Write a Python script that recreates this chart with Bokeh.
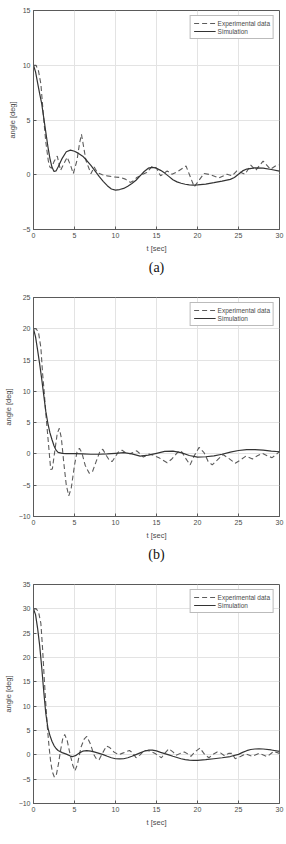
from bokeh.plotting import figure
from bokeh.models import Range1d, FixedTicker, Title, Label, Legend, LegendItem
from bokeh.layouts import column
from bokeh.embed import file_html
from bokeh.resources import INLINE

# ---------------- data ----------------
x_ticks = [0, 5, 10, 15, 20, 25, 30]

# (a)
a_sim_t = [0, 0.25, 0.5, 0.75, 1.0, 1.25, 1.5, 1.75, 2.0, 2.25, 2.5, 2.75, 3.0, 3.5, 4.0, 4.5, 5.0, 5.5, 6.0, 6.5, 7.0,
           7.5, 8.0, 8.5, 9.0, 9.5, 10, 10.5, 11, 11.5, 12, 12.5, 13, 13.5, 14, 14.5, 15, 15.5, 16, 16.5, 17, 17.5,
           18, 18.5, 19, 19.5, 20, 21, 22, 23, 24, 24.5, 25, 25.5, 26, 27, 28, 29, 30]
a_sim_v = [10, 9.4, 8.4, 7.4, 6.5, 5.2, 3.9, 2.6, 1.5, 0.7, 0.3, 0.35, 0.7, 1.5, 2.1, 2.25, 2.15, 1.95, 1.7, 1.3, 0.85,
           0.35, -0.15, -0.6, -1.0, -1.3, -1.4, -1.35, -1.25, -1.05, -0.8, -0.5, -0.1, 0.3, 0.6, 0.68, 0.6, 0.4,
           0.15, -0.15, -0.45, -0.65, -0.78, -0.87, -0.92, -0.95, -0.93, -0.85, -0.72, -0.58, -0.42, -0.25, 0.05,
           0.35, 0.52, 0.62, 0.6, 0.48, 0.33]
a_exp_t = [0, 0.3, 0.6, 0.9, 1.2, 1.5, 1.8, 2.0, 2.2, 2.5, 2.9, 3.3, 3.7, 4.1, 4.5, 4.85, 5.3, 5.6, 5.85, 6.1, 6.4,
           7.0, 7.4, 7.8, 8.4, 9.0, 9.8, 10.6, 11.2, 11.8, 12.3, 12.6, 13.2, 13.8, 14.5, 15.0, 15.5, 16.3, 16.9,
           17.6, 18.6, 19.6, 20.8, 21.6, 22.6, 23.6, 24.2, 24.8, 25.8, 26.5, 27.1, 28.0, 28.9, 29.5, 30]
a_exp_v = [10, 10, 9.5, 8.3, 5.5, 3.0, 1.3, 0.7, 0.6, 1.2, 1.7, 0.4, 1.0, 1.6, 0.9, 0.1, 1.3, 2.8, 3.7, 2.6, 1.3,
           0.1, 0.7, 0.2, 0.0, -0.1, -0.2, -0.25, -0.4, -0.7, -0.5, -0.25, 0.0, 0.2, 0.8, 0.6, -0.1, 0.35, 0.05,
           0.3, 0.8, -1.1, 0.12, 0.0, -0.3, 0.05, -0.1, 0.36, 0.05, 0.88, 0.4, 1.25, 0.5, 0.8, 0.9]
a_y_ticks = [-5, 0, 5, 10, 15]

# (b)
b_sim_t = [0, 0.25, 0.5, 0.75, 1.0, 1.25, 1.5, 1.75, 2.0, 2.25, 2.5, 2.75, 3.0, 3.5, 4, 5, 6, 7, 8, 9, 10, 11, 12,
           13, 14, 15, 16, 17, 18, 19, 20, 21, 22, 23, 24, 25, 26, 27, 28, 29, 30]
b_sim_v = [20, 18.7, 16.6, 14.4, 12.0, 9.4, 6.8, 4.9, 3.4, 2.3, 1.3, 0.6, 0.25, 0.1, 0.05, 0.05, 0.0, -0.05, -0.05,
           0.0, 0.1, 0.2, 0.0, -0.35, -0.2, 0.1, 0.4, 0.45, 0.2, -0.25, -0.5, -0.45, -0.3, -0.05, 0.3, 0.55, 0.7,
           0.7, 0.6, 0.45, 0.35]
b_exp_t = [0, 0.3, 0.6, 0.9, 1.1, 1.3, 1.5, 1.7, 1.9, 2.1, 2.3, 2.6, 2.9, 3.15, 3.4, 3.7, 4.0, 4.3, 4.6, 5.0, 5.3,
           5.6, 5.9, 6.3, 6.8, 7.2, 7.7, 8.1, 8.45, 8.9, 9.3, 9.6, 10.0, 10.4, 10.8, 11.3, 11.8, 12.3, 12.6, 13.0,
           13.4, 14.1, 14.6, 15.3, 16.3, 16.8, 17.6, 18.0, 18.5, 19.1, 19.6, 20.2, 20.8, 21.3, 21.8, 22.4, 23.1,
           23.8, 24.6, 25.2, 25.9, 26.7, 27.3, 27.9, 28.5, 29.1, 29.6, 30]
b_exp_v = [20, 20, 19.5, 17, 13, 10, 6.5, 3.5, 0.5, -2.5, -2.4, 0.5, 3.3, 4.1, 2.5, -1.5, -5.0, -6.7, -5.5, -1.8,
           0.3, 0.9, 0.2, -1.8, -3.1, -2.8, -1.0, 0.4, 0.75, -0.3, -1.1, -1.2, -0.4, 0.4, 0.6, 0.1, 0.05, 0.3, 0.5,
           0.0, -0.5, 0.0, -0.2, -0.6, -1.4, -0.9, 0.3, 0.5, -0.6, -1.75, -0.3, 1.05, 0.2, -1.2, -1.75, -1.0, -0.1,
           -0.7, -1.5, -1.0, -0.35, -0.8, -0.3, 0.1, -0.3, -0.6, -0.1, 0.4]
b_y_ticks = [-10, -5, 0, 5, 10, 15, 20, 25]

# (c)
c_sim_t = [0, 0.25, 0.5, 0.75, 1.0, 1.25, 1.5, 1.75, 2.0, 2.25, 2.5, 2.75, 3.0, 3.5, 4.0, 4.5, 4.8, 5.2, 5.6, 6.0,
           6.5, 7.0, 7.5, 8.0, 8.5, 9.0, 9.5, 10.0, 10.5, 11, 11.5, 12, 12.5, 13, 13.5, 14, 14.5, 15, 15.5, 16, 16.5,
           17, 17.5, 18, 18.5, 19, 19.5, 20, 21, 22, 23, 24, 25, 25.5, 26, 26.5, 27, 27.5, 28, 29, 30]
c_sim_v = [30, 28.8, 26, 22.5, 18, 13, 8.5, 5.6, 4.0, 2.8, 1.9, 1.3, 0.9, 0.45, 0.15, -0.25, -0.35, -0.1, 0.4, 0.75,
           0.85, 0.75, 0.55, 0.3, 0.05, -0.3, -0.6, -0.8, -0.85, -0.8, -0.6, -0.3, 0.05, 0.4, 0.75, 0.95, 0.95, 0.8,
           0.5, 0.25, 0.0, -0.3, -0.55, -0.8, -1.0, -1.1, -1.15, -1.15, -1.0, -0.8, -0.6, -0.35, 0.1, 0.5, 0.85,
           1.1, 1.2, 1.25, 1.2, 1.0, 0.7]
c_exp_t = [0, 0.3, 0.6, 0.9, 1.1, 1.3, 1.5, 1.7, 1.9, 2.1, 2.3, 2.55, 2.8, 3.05, 3.3, 3.55, 3.8, 4.1, 4.45, 4.8,
           5.05, 5.35, 5.8, 6.2, 6.5, 6.9, 7.4, 7.7, 8.0, 8.4, 8.9, 9.3, 9.8, 10.4, 10.8, 11.7, 12.1, 12.5, 13.0,
           13.5, 14.2, 14.9, 15.6, 16.0, 16.5, 17.0, 17.4, 17.9, 18.4, 18.8, 19.2, 19.7, 20.3, 20.9, 21.4, 21.9,
           22.4, 22.8, 23.3, 23.8, 24.2, 24.6, 25.3, 25.9, 26.7, 27.5, 28.5, 29.3, 30]
c_exp_v = [30, 30, 29.5, 27, 22, 16, 10.5, 5.5, 1.6, -1.5, -3.5, -4.6, -4.0, -1.8, 0.9, 3.2, 4.2, 3.0, 0.2, -2.2,
           -3.3, -2.0, 1.6, 3.3, 3.8, 2.4, -0.1, -0.9, -1.0, 0.3, 1.8, 1.5, 0.6, 0.0, 0.3, 0.9, 0.4, -0.6, 0.0,
           0.9, 0.8, 0.2, -0.6, 0.3, 1.25, 0.6, -0.1, 0.3, 0.6, 0.2, -0.3, 0.6, 1.4, 0.0, -0.6, 0.1, 0.6, 0.4,
           -0.2, 0.3, 0.3, -0.8, -0.3, 0.2, -0.3, 0.3, -0.35, 0.7, 0.3]
c_y_ticks = [-10, -5, 0, 5, 10, 15, 20, 25, 30, 35]

# ---------------- styling ----------------
FONT = "Liberation Sans"
SERIF = "Liberation Serif"
TXT = "#4a4a4a"
BOX = "#5a5a5a"


def make_panel(sim_t, sim_v, exp_t, exp_v, yticks, caption, height, label_caption=False):
    p = figure(width=286, height=height, output_backend="svg", toolbar_location=None,
               x_range=Range1d(0, 30), y_range=Range1d(yticks[0], yticks[-1]),
               min_border_left=26, min_border_right=7, min_border_top=10,
               min_border_bottom=58 if not label_caption else height - 10 - 219)
    p.background_fill_color = "white"
    p.border_fill_color = "white"
    p.outline_line_color = BOX
    p.outline_line_width = 1

    for ax in (p.xaxis[0], p.yaxis[0]):
        ax.major_tick_in = 3
        ax.major_tick_out = 0
        ax.minor_tick_line_color = None
        ax.axis_line_color = BOX
        ax.major_tick_line_color = BOX
        ax.major_label_text_font = FONT
        ax.major_label_text_font_size = "7px"
        ax.major_label_text_color = TXT
        ax.axis_label_text_font = FONT
        ax.axis_label_text_font_size = "7.5px"
        ax.axis_label_text_font_style = "normal"
        ax.axis_label_text_color = TXT
        ax.major_label_standoff = 3
        ax.axis_label_standoff = 3
    p.xaxis[0].ticker = FixedTicker(ticks=x_ticks)
    p.yaxis[0].ticker = FixedTicker(ticks=yticks)
    p.xaxis.axis_label = "t [sec]"
    p.yaxis.axis_label = "angle [deg]"

    p.grid.grid_line_color = "#e3e3e3"
    p.xgrid.ticker = FixedTicker(ticks=x_ticks)
    p.ygrid.ticker = FixedTicker(ticks=yticks)

    r_exp = p.line(exp_t, exp_v, line_color="#5c5c5c", line_width=1.1, line_dash="5 3")
    r_sim = p.line(sim_t, sim_v, line_color="#333333", line_width=1.2)

    leg = Legend(items=[LegendItem(label="Experimental data", renderers=[r_exp]),
                        LegendItem(label="Simulation", renderers=[r_sim])],
                 location="top_right", margin=5, padding=3, spacing=0,
                 glyph_width=22, glyph_height=8, label_height=8, label_standoff=2,
                 label_text_font=FONT, label_text_font_size="6.5px", label_text_color=TXT,
                 border_line_color="#777777", border_line_width=1,
                 background_fill_color="white", background_fill_alpha=1)
    p.add_layout(leg, "center")

    if label_caption:
        p.add_layout(Label(x=15, y=-32, x_units="data", y_units="screen", text=caption,
                           text_align="center", text_baseline="middle",
                           text_font=SERIF, text_font_size="13px", text_color="#111111"))
    else:
        p.add_layout(Title(text=caption, align="center", text_font=SERIF, text_font_size="14px",
                           text_font_style="normal", text_color="#111111", standoff=4), "below")
    return p


pa = make_panel(a_sim_t, a_sim_v, a_exp_t, a_exp_v, a_y_ticks, "(a)", 287)
pb = make_panel(b_sim_t, b_sim_v, b_exp_t, b_exp_v, b_y_ticks, "(b)", 287)
pc = make_panel(c_sim_t, c_sim_v, c_exp_t, c_exp_v, c_y_ticks, "(c)", 270, label_caption=True)

layout = column(pa, pb, pc, spacing=0)
open("out.html", "w").write(file_html(layout, INLINE))
